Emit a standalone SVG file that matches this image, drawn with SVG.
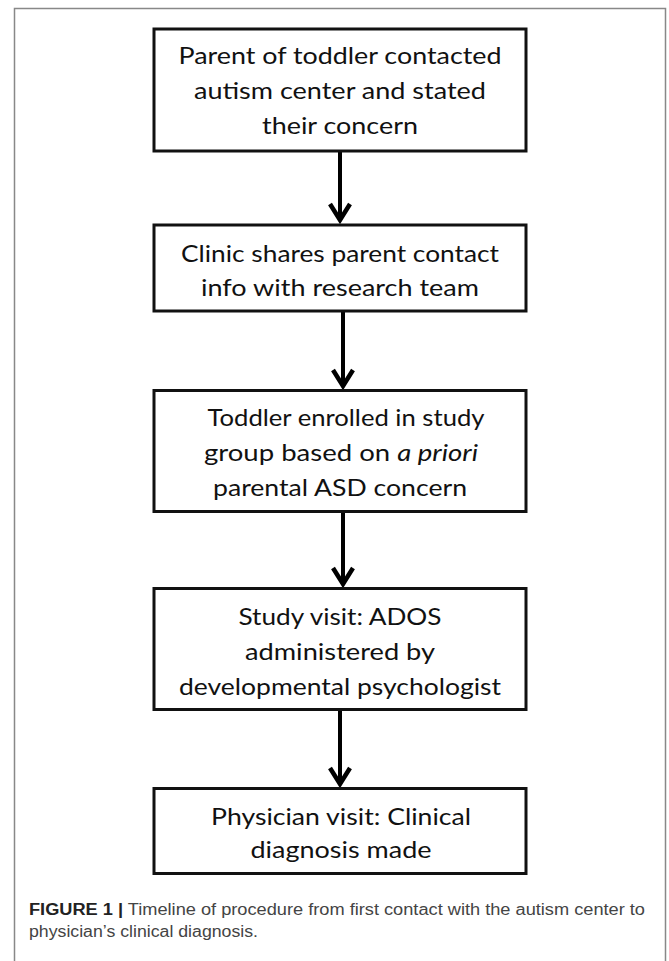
<svg xmlns="http://www.w3.org/2000/svg" width="669" height="961" viewBox="0 0 669 961">
<style>
.box{fill:#fff;stroke:#111;stroke-width:3}
.t{font-family:Lato,"Open Sans","Noto Sans",sans-serif;font-size:23px;fill:#111;text-anchor:middle}
.cap{font-family:"Liberation Sans",Arial,sans-serif;font-size:16px;fill:#444}
.conn{stroke:#000;stroke-width:4;fill:none}
</style>
<defs>
<marker id="ah" markerUnits="userSpaceOnUse" orient="auto" viewBox="-24 -14 28 28" refX="0" refY="0" markerWidth="28" markerHeight="28">
<path d="M-17,-10 L-1,0 L-17,10" fill="none" stroke="#000" stroke-width="4.5" stroke-linejoin="miter"/>
</marker>
</defs>
<rect width="669" height="961" fill="#fff"/>
<path d="M14.5,970 V8.5 H665.5 V970" fill="none" stroke="#888" stroke-width="1.5"/>
<g id="connectors">
<line class="conn" x1="340" y1="152" x2="340" y2="221" marker-end="url(#ah)"/>
<line class="conn" x1="343" y1="312" x2="343" y2="387" marker-end="url(#ah)"/>
<line class="conn" x1="343" y1="513" x2="343" y2="585" marker-end="url(#ah)"/>
<line class="conn" x1="340" y1="711" x2="340" y2="785" marker-end="url(#ah)"/>
</g>
<g id="node1">
<rect class="box" x="154" y="29" width="372" height="122"/>
<text class="t" x="340" y="64" textLength="323" lengthAdjust="spacingAndGlyphs">Parent of toddler contacted</text>
<text class="t" x="340" y="99" textLength="292" lengthAdjust="spacingAndGlyphs">autism center and stated</text>
<text class="t" x="340" y="134" textLength="156" lengthAdjust="spacingAndGlyphs">their concern</text>
</g>
<g id="node2">
<rect class="box" x="154" y="225" width="372" height="86"/>
<text class="t" x="340" y="262" textLength="318" lengthAdjust="spacingAndGlyphs">Clinic shares parent contact</text>
<text class="t" x="340" y="296" textLength="278" lengthAdjust="spacingAndGlyphs">info with research team</text>
</g>
<g id="node3">
<rect class="box" x="154" y="390.5" width="372" height="121"/>
<text class="t" x="346" y="426" textLength="277" lengthAdjust="spacingAndGlyphs">Toddler enrolled in study</text>
<text class="t" x="341" y="461" textLength="274" lengthAdjust="spacingAndGlyphs">group based on <tspan font-style="italic">a priori</tspan></text>
<text class="t" x="340" y="496" textLength="254" lengthAdjust="spacingAndGlyphs">parental ASD concern</text>
</g>
<g id="node4">
<rect class="box" x="154" y="588.5" width="372" height="121"/>
<text class="t" x="340" y="625" textLength="203" lengthAdjust="spacingAndGlyphs">Study visit: ADOS</text>
<text class="t" x="340" y="660" textLength="190" lengthAdjust="spacingAndGlyphs">administered by</text>
<text class="t" x="340" y="695" textLength="322" lengthAdjust="spacingAndGlyphs">developmental psychologist</text>
</g>
<g id="node5">
<rect class="box" x="154" y="788.5" width="372" height="85"/>
<text class="t" x="341" y="825" textLength="260" lengthAdjust="spacingAndGlyphs">Physician visit: Clinical</text>
<text class="t" x="341" y="858" textLength="181" lengthAdjust="spacingAndGlyphs">diagnosis made</text>
</g>
<g id="caption">
<text class="cap" x="29" y="915" textLength="616" lengthAdjust="spacingAndGlyphs"><tspan font-weight="bold" fill="#222">FIGURE 1 |</tspan> Timeline of procedure from first contact with the autism center to</text>
<text class="cap" x="29" y="937" textLength="229" lengthAdjust="spacingAndGlyphs">physician’s clinical diagnosis.</text>
</g>
</svg>
